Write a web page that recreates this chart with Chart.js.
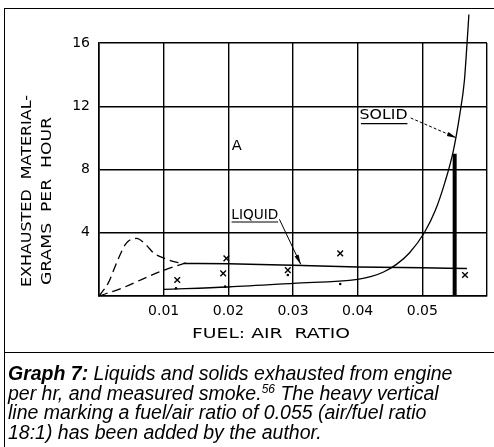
<!DOCTYPE html>
<html>
<head>
<meta charset="utf-8">
<script src="https://cdn.jsdelivr.net/npm/chart.js@4.4.0/dist/chart.umd.min.js"></script>
<style>
  html, body { margin: 0; padding: 0; background: #fff; }
  body { width: 494px; height: 447px; position: relative; overflow: hidden; }
  #wrap { position: absolute; left: 0; top: 0; width: 494px; height: 353px; }
  #frame { position: absolute; left: 4px; top: 8px; width: 520px; height: 470px; border: 1.5px solid #000; box-sizing: border-box; pointer-events: none; }
  #sep { position: absolute; left: 4px; top: 352px; width: 494px; border-top: 1.5px solid #000; }
  #caption { position: absolute; left: 8px; top: 364px; font: italic 19.5px "Liberation Sans", Arial, sans-serif; line-height: 19.5px; color: #000; white-space: nowrap; }
  #caption b { font-weight: bold; }
  #caption sup { font-size: 12px; line-height: 0; }
</style>
</head>
<body>
<div id="wrap"><canvas id="graph7" width="494" height="353"></canvas></div>
<div id="frame"></div>
<div id="sep"></div>
<div id="caption"><b>Graph 7:</b> Liquids and solids exhausted from engine<br>per hr, and measured smoke.<sup>56</sup> The heavy vertical<br>line marking a fuel/air ratio of 0.055 (air/fuel ratio<br>18:1) has been added by the author.</div>
<script>
// fuel:air ratio (x) and grams per hour (y)
const liquidDashX = [0, 0.0014, 0.0029, 0.0042, 0.0058, 0.0073, 0.0085, 0.0101, 0.0116, 0.0131];
const liquidDashY = [0, 0.80, 2.27, 3.33, 3.64, 3.22, 2.70, 2.38, 2.17, 2.06];

const liquidX = [0.0131, 0.020, 0.030, 0.040, 0.050, 0.0569];
const liquidY = [2.06, 2.04, 1.95, 1.84, 1.78, 1.74];

const solidDashX = [0, 0.0035, 0.0070, 0.0101, 0.0135];
const solidDashY = [0, 0.49, 1.12, 1.64, 2.10];

const solidX = [0.010, 0.020, 0.030, 0.040, 0.042, 0.044, 0.046, 0.048, 0.0503, 0.052, 0.0535, 0.0548, 0.0558, 0.0565, 0.0569, 0.0572];
const solidY = [0.42, 0.57, 0.80, 1.05, 1.22, 1.52, 2.00, 2.72, 4.00, 5.40, 7.20, 9.20, 11.50, 13.60, 15.90, 17.80];

const crossX = [0.0121, 0.0197, 0.0192, 0.0292, 0.0373, 0.0566];
const crossY = [1.01, 2.38, 1.43, 1.64, 2.70, 1.33];

const dotX = [0.0119, 0.0195, 0.0292, 0.0373];
const dotY = [0.49, 0.59, 1.33, 0.76];

// heavy line added by the author at fuel/air 0.055
const markerX = [0.055, 0.055];
const markerY = [0, 9.0];

const xTicks = [0.01, 0.02, 0.03, 0.04, 0.05];
const yTicks = [4, 8, 12, 16];

const pts = (xs, ys) => xs.map((x, i) => ({ x: x, y: ys[i] }));

const FONT = '"DejaVu Sans", sans-serif';

// draw text stretched to a given width, centred on cx, cy
function fitText(ctx, text, cx, cy, width, size, rot) {
    ctx.save();
    ctx.font = size + 'px ' + FONT;
    const w = ctx.measureText(text).width;
    ctx.translate(cx, cy);
    if (rot) ctx.rotate(rot);
    ctx.scale(width / w, 1);
    ctx.textAlign = 'center';
    ctx.textBaseline = 'middle';
    ctx.fillStyle = '#000';
    ctx.fillText(text, 0, 0);
    ctx.restore();
}

function arrow(ctx, x0, y0, x1, y1, dash) {
    ctx.save();
    ctx.strokeStyle = '#000';
    ctx.lineWidth = 1;
    ctx.setLineDash(dash || []);
    ctx.beginPath();
    ctx.moveTo(x0, y0);
    ctx.lineTo(x1, y1);
    ctx.stroke();
    ctx.setLineDash([]);
    const a = Math.atan2(y1 - y0, x1 - x0);
    ctx.beginPath();
    ctx.moveTo(x1, y1);
    ctx.lineTo(x1 - 10 * Math.cos(a - 0.22), y1 - 10 * Math.sin(a - 0.22));
    ctx.lineTo(x1 - 10 * Math.cos(a + 0.22), y1 - 10 * Math.sin(a + 0.22));
    ctx.closePath();
    ctx.fillStyle = '#000';
    ctx.fill();
    ctx.restore();
}

const notes = {
    id: 'notes',
    afterDraw(chart) {
        const ctx = chart.ctx;
        const x = chart.scales.x, y = chart.scales.y;
        const px = v => x.getPixelForValue(v);
        const py = v => y.getPixelForValue(v);

        // axis titles
        fitText(ctx, 'EXHAUSTED  MATERIAL-', 27, 191, 192, 14, -Math.PI / 2);
        fitText(ctx, 'GRAMS  PER  HOUR', 47, 201, 168, 14, -Math.PI / 2);
        fitText(ctx, 'FUEL: AIR  RATIO', 271, 334, 158, 14, 0);

        // region label
        fitText(ctx, 'A', px(0.0213), py(9.49), 10, 14, 0);

        // SOLID label, underline and dashed arrow
        fitText(ctx, 'SOLID', px(0.0440), py(11.45), 48, 14, 0);
        ctx.save();
        ctx.lineWidth = 1.2;
        ctx.beginPath();
        ctx.moveTo(px(0.0405), py(10.9));
        ctx.lineTo(px(0.0477), py(10.9));
        ctx.stroke();
        ctx.restore();
        arrow(ctx, px(0.0482), py(11.26), px(0.0553), py(10.0), [3, 2]);

        // LIQUID label, underline and arrow
        fitText(ctx, 'LIQUID', px(0.0241), py(5.1), 47, 14, 0);
        ctx.save();
        ctx.lineWidth = 1.2;
        ctx.beginPath();
        ctx.moveTo(px(0.0205), py(4.68));
        ctx.lineTo(px(0.0277), py(4.68));
        ctx.stroke();
        ctx.restore();
        arrow(ctx, px(0.0279), py(4.85), px(0.0312), py(2.0));
    }
};

const line = (data, extra) => Object.assign({
    type: 'line',
    data: data,
    borderColor: '#000',
    backgroundColor: '#000',
    borderWidth: 1.3,
    pointRadius: 0,
    fill: false,
    cubicInterpolationMode: 'monotone',
    clip: false
}, extra || {});

new Chart(document.getElementById('graph7'), {
    type: 'scatter',
    data: {
        datasets: [
            line(pts(liquidDashX, liquidDashY), { borderDash: [9, 5] }),
            line(pts(solidDashX, solidDashY), { borderDash: [9, 5] }),
            line(pts(liquidX, liquidY), { borderWidth: 1.5 }),
            line(pts(solidX, solidY), {
                pointRadius: solidX.map((v, i) => i === solidX.length - 1 ? 2 : 0)
            }),
            line(pts(markerX, markerY), { borderWidth: 4, cubicInterpolationMode: 'default', tension: 0 }),
            {
                data: pts(crossX, crossY),
                pointStyle: 'crossRot',
                pointRadius: 4,
                borderColor: '#000',
                borderWidth: 1.4
            },
            {
                data: pts(dotX, dotY),
                pointStyle: 'circle',
                pointRadius: 1.3,
                backgroundColor: '#000',
                borderColor: '#000',
                borderWidth: 0
            }
        ]
    },
    options: {
        responsive: false,
        animation: false,
        events: [],
        layout: { padding: { top: 43, right: 4, left: 0, bottom: 0 } },
        plugins: {
            legend: { display: false },
            tooltip: { enabled: false },
            title: { display: false }
        },
        scales: {
            x: {
                type: 'linear',
                min: 0,
                max: 0.06,
                afterFit: s => { s.height = 57; },
                afterBuildTicks: s => {
                    s.ticks = [0, 0.01, 0.02, 0.03, 0.04, 0.05, 0.06].map(v => ({ value: v }));
                },
                ticks: {
                    padding: 7,
                    color: '#000',
                    font: { family: FONT, size: 14 },
                    callback: v => {
                        const t = xTicks.find(k => Math.abs(k - v) < 1e-6);
                        return t ? t.toFixed(2) : '';
                    }
                },
                grid: { color: '#000', lineWidth: 1.4, drawTicks: false },
                border: { display: true, color: '#000', width: 1.6 }
            },
            y: {
                min: 0,
                max: 16,
                afterFit: s => { s.width = 99; },
                afterBuildTicks: s => {
                    s.ticks = [0].concat(yTicks).map(v => ({ value: v }));
                },
                ticks: {
                    padding: 9,
                    color: '#000',
                    font: { family: FONT, size: 14 },
                    callback: v => yTicks.includes(v) ? String(v) : ''
                },
                grid: { color: '#000', lineWidth: 1.4, drawTicks: false },
                border: { display: true, color: '#000', width: 1.6 }
            }
        }
    },
    plugins: [notes]
});
</script>
</body>
</html>
